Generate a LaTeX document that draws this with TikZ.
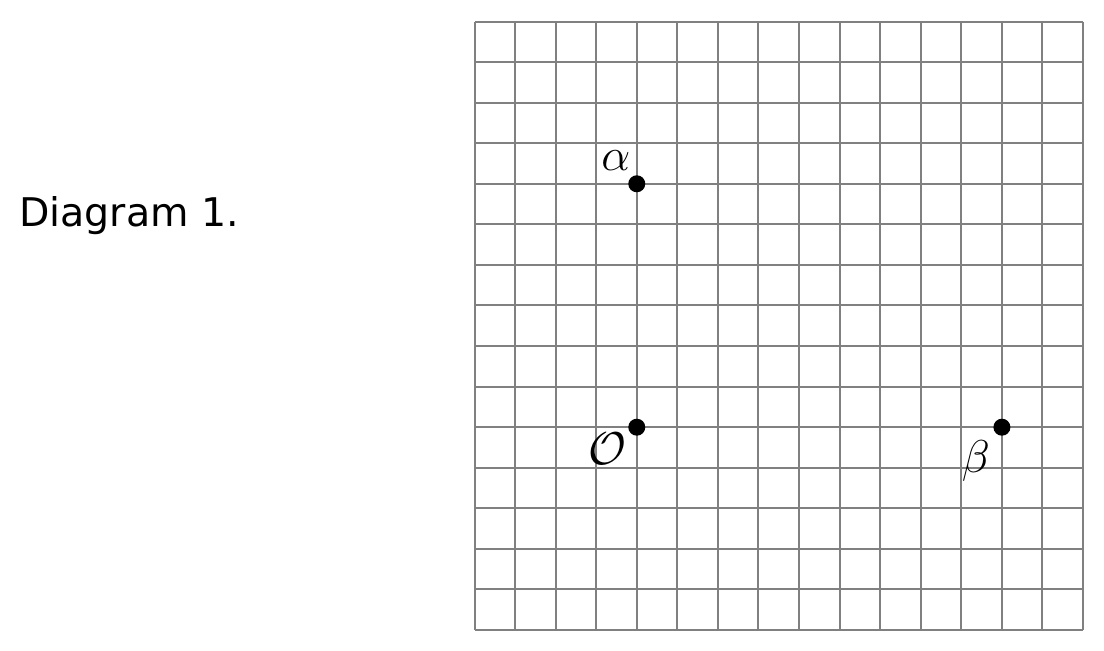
\documentclass[tikz,border=0pt]{standalone}
\usepackage{fix-cm}
\usepackage{fontspec}
\setmainfont{DejaVu Sans}
\begin{document}
\begin{tikzpicture}[x=1pt,y=-1pt,
  gridline/.style={draw=gray,line width=2pt},
  dot/.style={circle,fill=black,inner sep=0pt,minimum size=17pt},
  lab/.style={inner sep=0pt,font=\fontsize{46}{50}\selectfont},
  title/.style={inner sep=0pt,anchor=base west,font=\fontsize{39.5}{44}\selectfont}]
\useasboundingbox (0,0) rectangle (1104,651);
\def\gx{474.5}\def\gy{21.5}\def\cs{40.57}
\foreach \i in {0,...,15}{
  \draw[gridline] ({\gx+\i*\cs},\gy) -- ({\gx+\i*\cs},{\gy+15*\cs});
  \draw[gridline] (\gx,{\gy+\i*\cs}) -- ({\gx+15*\cs},{\gy+\i*\cs});
}
\node[title] (t) at (19,226) {Diagram 1.};
\node[dot] (a) at ({\gx+4*\cs},{\gy+4*\cs}) {};
\node[dot] (o) at ({\gx+4*\cs},{\gy+10*\cs}) {};
\node[dot] (b) at ({\gx+13*\cs},{\gy+10*\cs}) {};
\node[lab] (la) at ([shift={(-21,-23)}]a) {$\alpha$};
\node[lab] (lo) at ([shift={(-29,22)}]o) {$\mathcal{O}$};
\node[lab] (lb) at ([shift={(-26,34)}]b) {$\beta$};
\end{tikzpicture}
\end{document}
